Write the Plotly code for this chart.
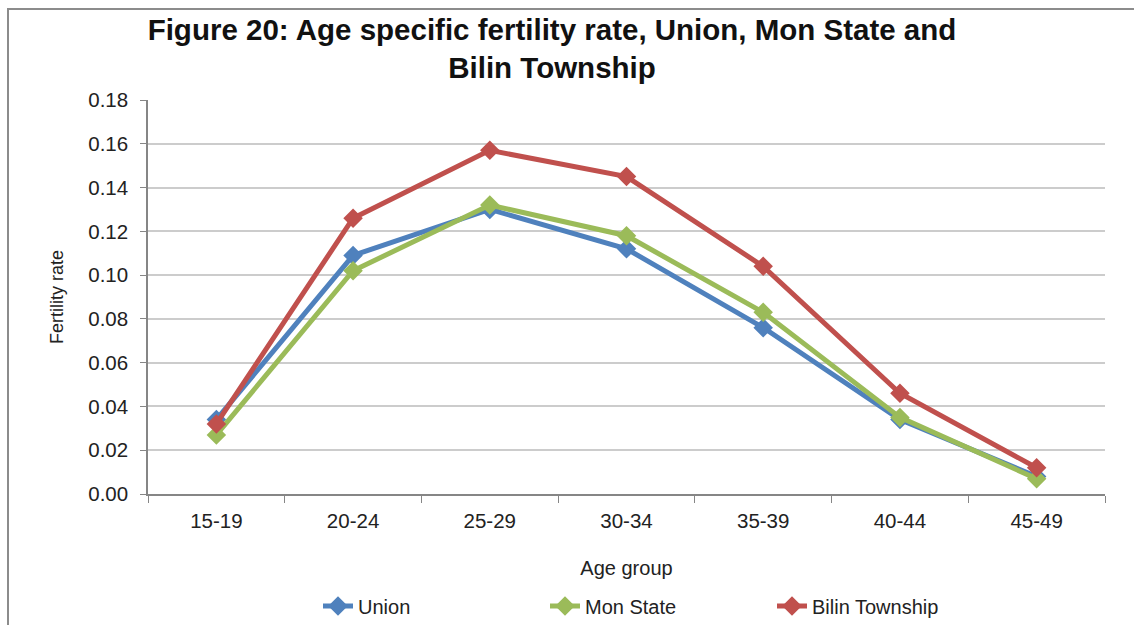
import plotly.graph_objects as go

age_groups = ["15-19", "20-24", "25-29", "30-34", "35-39", "40-44", "45-49"]
union = [0.034, 0.109, 0.130, 0.112, 0.076, 0.034, 0.008]
mon_state = [0.027, 0.102, 0.132, 0.118, 0.083, 0.035, 0.007]
bilin = [0.032, 0.126, 0.157, 0.145, 0.104, 0.046, 0.012]

series = [
    ("Union", union, "#4F81BD"),
    ("Mon State", mon_state, "#9BBB59"),
    ("Bilin Township", bilin, "#C0504D"),
]

fig = go.Figure()
for name, vals, color in series:
    fig.add_trace(go.Scatter(
        x=age_groups, y=vals, name=name, mode="lines+markers",
        line=dict(color=color, width=5),
        marker=dict(symbol="diamond", size=15, color=color),
    ))

font = "Liberation Sans, Arial, sans-serif"
fig.update_layout(
    width=1134, height=625,
    paper_bgcolor="white", plot_bgcolor="white",
    margin=dict(l=148, r=29, t=100, b=131, autoexpand=False),
    font=dict(family=font, size=20, color="#222"),
    title=dict(
        text="<b>Figure 20: Age specific fertility rate, Union, Mon State and<br>Bilin Township</b>",
        x=552 / 1134, xanchor="center", yref="container", y=1 - 40 / 625, yanchor="top",
        font=dict(size=29.5, family=font, color="#111"),
    ),
    xaxis=dict(
        type="category", range=[-0.5, 6.5], automargin=False,
        showline=True, linecolor="#868686", linewidth=1.5,
        ticks="outside", tickson="boundaries", ticklen=7, tickcolor="#868686",
        ticklabelstandoff=8, tickfont=dict(size=20.5),
        showgrid=False,
        title=dict(text="Age group", font=dict(size=20), standoff=30),
    ),
    yaxis=dict(
        range=[0, 0.18], dtick=0.02, tickformat=".2f", automargin=False,
        showline=True, linecolor="#868686", linewidth=1.5,
        ticks="outside", ticklen=6, tickcolor="#868686",
        ticklabelstandoff=8, tickfont=dict(size=20.5),
        showgrid=True, gridcolor="#CCCCCC", gridwidth=2,
        zeroline=False,
        title=dict(text="Fertility rate", font=dict(size=18), standoff=20),
    ),
    legend=dict(
        orientation="h", x=(298 + 20 - 148) / 957, xanchor="left",
        yref="container", y=(625 - 606) / 625, yanchor="middle",
        font=dict(size=20), entrywidth=182, entrywidthmode="pixels",
        traceorder="normal",
    ),
    shapes=[dict(type="rect", xref="paper", yref="paper",
                 x0=-140 / 957, x1=1.05, y0=-0.4, y1=(494 - 9) / 394,
                 line=dict(color="#8C8C8C", width=2), layer="below")],
)

fig.write_html("out.html")
